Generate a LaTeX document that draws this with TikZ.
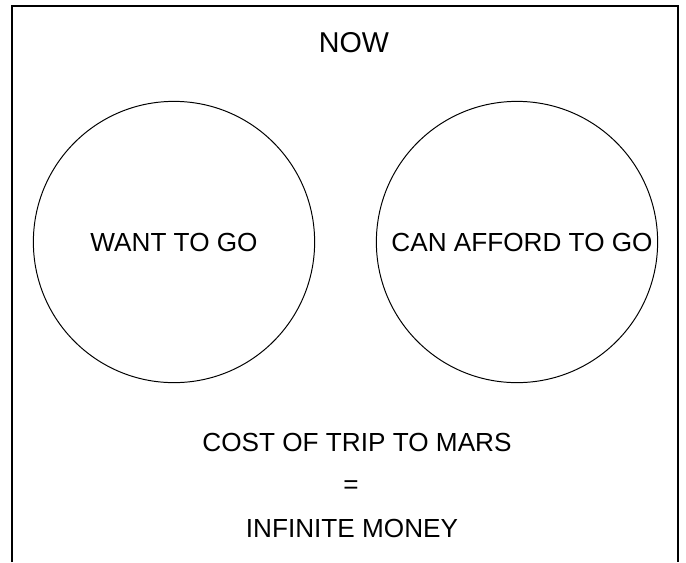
\documentclass[tikz,border=0pt]{standalone}
\usepackage{fontspec}
\setmainfont{Liberation Sans}
\begin{document}
\tikzset{
  bubble/.style={circle, draw, line width=0.7pt, minimum size=7.03cm, inner sep=0pt},
  words/.style={font=\fontsize{18.6}{22}\selectfont, inner sep=0pt},
  heading/.style={font=\fontsize{20.4}{24}\selectfont, inner sep=0pt}
}
\begin{tikzpicture}[x=0.025cm, y=-0.025cm]
        \useasboundingbox (0,0) rectangle (686,562);
        % frame, open at the bottom
        \draw[line width=1.4pt] (12,562) -- (12,6) -- (678,6) -- (678,562);

        % title
        \node[heading] (now) at (354,42.5) {NOW};

        % circles
        \node[bubble, words] (want) at (174,242) {WANT TO GO};
        \node[bubble] (afford) at (517,242) {};
        \node[words] (affordtext) at (522,242.5) {CAN AFFORD TO GO};

        % cost
        \node[words] (cost) at (357,442) {COST OF TRIP TO MARS};
        \node[words] (equals) at (351,487) {=};
        \node[words] (money) at (352,528) {INFINITE MONEY};
\end{tikzpicture}
\end{document}
